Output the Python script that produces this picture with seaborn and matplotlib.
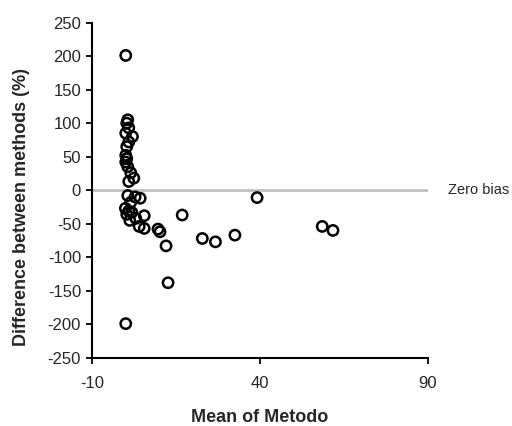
import matplotlib
matplotlib.use("Agg")
import matplotlib.pyplot as plt
import seaborn as sns
import pandas as pd

mean_of_metodo = [0.0, 0.6, 0.3, 0.9, 0.0, 2.0, 0.9, 0.3, 0.0, 0.3, 0.0, 0.6, 1.5, 2.4, 0.9,
                  0.6, 2.8, 4.3, 1.5, -0.1, 0.9, 0.3, 1.8, 3.0, 1.2, 5.5, 16.8, 4.0, 5.5,
                  9.6, 10.2, 12.0, 12.6, 0.0, 39.1, 22.8, 26.7, 32.5, 58.5, 61.7]
difference_pct = [201, 105, 100, 93, 85, 80, 72, 65, 52, 47, 42, 35, 26, 18, 13,
                  -8, -10, -12, -18, -27, -31, -36, -33, -42, -45, -38, -37, -54, -57,
                  -58, -62, -83, -138, -199, -11, -72, -77, -67, -54, -60]
x_ticks = [-10, 40, 90]
y_ticks = [250, 200, 150, 100, 50, 0, -50, -100, -150, -200, -250]

df = pd.DataFrame({"mean": mean_of_metodo, "diff": difference_pct})

sns.set_style("ticks")
plt.rcParams["font.family"] = ["Liberation Sans", "DejaVu Sans"]
plt.rcParams["axes.unicode_minus"] = False

fig = plt.figure(figsize=(5.12, 4.26), dpi=100)
ax = fig.add_axes([0.18, 0.16, 0.656, 0.787])

ax.axhline(0, color="#c0c0c0", lw=2, zorder=1)
sns.scatterplot(data=df, x="mean", y="diff", ax=ax, marker="o", s=55,
                facecolors="none", edgecolor="black", linewidth=1.8, zorder=3)

ax.set_xlim(-10, 90)
ax.set_ylim(-250, 250)
ax.set_xticks(x_ticks)
ax.set_yticks(y_ticks)
ax.tick_params(axis="both", labelsize=12, length=4, width=1.3, color="black")
ax.tick_params(axis="x", pad=9)
ax.tick_params(axis="y", pad=4)
for s in ["left", "bottom"]:
    ax.spines[s].set_linewidth(1.5)
    ax.spines[s].set_color("black")
sns.despine(ax=ax)

ax.text(96, 0, "Zero bias", fontsize=10.5, va="center", ha="left", clip_on=False)

ax.set_xlabel("Mean of Metodo", fontsize=13, fontweight="bold")
ax.set_ylabel("Difference between methods (%)", fontsize=13, fontweight="bold")
ax.xaxis.label.set_va("center")
ax.yaxis.label.set_va("center")
ax.xaxis.set_label_coords(0.5, -0.179)
ax.yaxis.set_label_coords(-0.211, 0.45)

fig.savefig("out.png", dpi=100)
